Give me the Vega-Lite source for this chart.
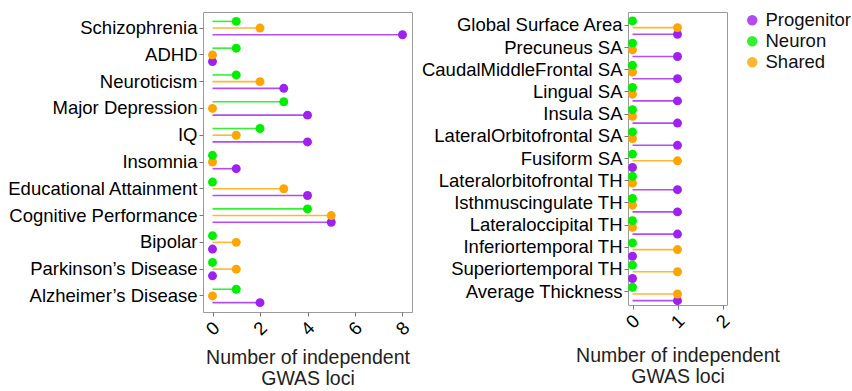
{
  "$schema": "https://vega.github.io/schema/vega-lite/v6.json",
  "padding": {"left": 6, "top": 11, "right": 0, "bottom": 0},
  "config": {
    "font": "Liberation Sans",
    "view": {"stroke": "#9a9a9a", "strokeWidth": 1},
    "axis": {"grid": false, "domain": false, "tickColor": "#777", "tickSize": 4, "labelColor": "#000", "labelFontSize": 18.5, "labelLimit": 0, "titleFontSize": 19.5, "titleFontWeight": "normal", "titleColor": "#222"},
    "legend": {"labelFontSize": 18.5, "labelColor": "#111", "rowPadding": 2, "symbolSize": 80}
  },
  "datasets": {
    "left": [
      {"trait": "Schizophrenia", "type": "Progenitor", "value": 8},
      {"trait": "ADHD", "type": "Progenitor", "value": 0},
      {"trait": "Neuroticism", "type": "Progenitor", "value": 3},
      {"trait": "Major Depression", "type": "Progenitor", "value": 4},
      {"trait": "IQ", "type": "Progenitor", "value": 4},
      {"trait": "Insomnia", "type": "Progenitor", "value": 1},
      {"trait": "Educational Attainment", "type": "Progenitor", "value": 4},
      {"trait": "Cognitive Performance", "type": "Progenitor", "value": 5},
      {"trait": "Bipolar ", "type": "Progenitor", "value": 0},
      {"trait": "Parkinson’s Disease", "type": "Progenitor", "value": 0},
      {"trait": "Alzheimer’s Disease", "type": "Progenitor", "value": 2},
      {"trait": "Schizophrenia", "type": "Shared", "value": 2},
      {"trait": "ADHD", "type": "Shared", "value": 0},
      {"trait": "Neuroticism", "type": "Shared", "value": 2},
      {"trait": "Major Depression", "type": "Shared", "value": 0},
      {"trait": "IQ", "type": "Shared", "value": 1},
      {"trait": "Insomnia", "type": "Shared", "value": 0},
      {"trait": "Educational Attainment", "type": "Shared", "value": 3},
      {"trait": "Cognitive Performance", "type": "Shared", "value": 5},
      {"trait": "Bipolar ", "type": "Shared", "value": 1},
      {"trait": "Parkinson’s Disease", "type": "Shared", "value": 1},
      {"trait": "Alzheimer’s Disease", "type": "Shared", "value": 0},
      {"trait": "Schizophrenia", "type": "Neuron", "value": 1},
      {"trait": "ADHD", "type": "Neuron", "value": 1},
      {"trait": "Neuroticism", "type": "Neuron", "value": 1},
      {"trait": "Major Depression", "type": "Neuron", "value": 3},
      {"trait": "IQ", "type": "Neuron", "value": 2},
      {"trait": "Insomnia", "type": "Neuron", "value": 0},
      {"trait": "Educational Attainment", "type": "Neuron", "value": 0},
      {"trait": "Cognitive Performance", "type": "Neuron", "value": 4},
      {"trait": "Bipolar ", "type": "Neuron", "value": 0},
      {"trait": "Parkinson’s Disease", "type": "Neuron", "value": 0},
      {"trait": "Alzheimer’s Disease", "type": "Neuron", "value": 1}
    ],
    "right": [
      {"trait": "Global Surface Area", "type": "Progenitor", "value": 1},
      {"trait": "Precuneus SA", "type": "Progenitor", "value": 1},
      {"trait": "CaudalMiddleFrontal SA", "type": "Progenitor", "value": 1},
      {"trait": "Lingual SA", "type": "Progenitor", "value": 1},
      {"trait": "Insula SA", "type": "Progenitor", "value": 1},
      {"trait": "LateralOrbitofrontal SA", "type": "Progenitor", "value": 1},
      {"trait": "Fusiform SA", "type": "Progenitor", "value": 0},
      {"trait": "Lateralorbitofrontal TH", "type": "Progenitor", "value": 1},
      {"trait": "Isthmuscingulate TH", "type": "Progenitor", "value": 1},
      {"trait": "Lateraloccipital TH", "type": "Progenitor", "value": 1},
      {"trait": "Inferiortemporal TH", "type": "Progenitor", "value": 0},
      {"trait": "Superiortemporal TH", "type": "Progenitor", "value": 0},
      {"trait": "Average Thickness", "type": "Progenitor", "value": 1},
      {"trait": "Global Surface Area", "type": "Shared", "value": 1},
      {"trait": "Precuneus SA", "type": "Shared", "value": 0},
      {"trait": "CaudalMiddleFrontal SA", "type": "Shared", "value": 0},
      {"trait": "Lingual SA", "type": "Shared", "value": 0},
      {"trait": "Insula SA", "type": "Shared", "value": 0},
      {"trait": "LateralOrbitofrontal SA", "type": "Shared", "value": 0},
      {"trait": "Fusiform SA", "type": "Shared", "value": 1},
      {"trait": "Lateralorbitofrontal TH", "type": "Shared", "value": 0},
      {"trait": "Isthmuscingulate TH", "type": "Shared", "value": 0},
      {"trait": "Lateraloccipital TH", "type": "Shared", "value": 0},
      {"trait": "Inferiortemporal TH", "type": "Shared", "value": 1},
      {"trait": "Superiortemporal TH", "type": "Shared", "value": 1},
      {"trait": "Average Thickness", "type": "Shared", "value": 1},
      {"trait": "Global Surface Area", "type": "Neuron", "value": 0},
      {"trait": "Precuneus SA", "type": "Neuron", "value": 0},
      {"trait": "CaudalMiddleFrontal SA", "type": "Neuron", "value": 0},
      {"trait": "Lingual SA", "type": "Neuron", "value": 0},
      {"trait": "Insula SA", "type": "Neuron", "value": 0},
      {"trait": "LateralOrbitofrontal SA", "type": "Neuron", "value": 0},
      {"trait": "Fusiform SA", "type": "Neuron", "value": 0},
      {"trait": "Lateralorbitofrontal TH", "type": "Neuron", "value": 0},
      {"trait": "Isthmuscingulate TH", "type": "Neuron", "value": 0},
      {"trait": "Lateraloccipital TH", "type": "Neuron", "value": 0},
      {"trait": "Inferiortemporal TH", "type": "Neuron", "value": 0},
      {"trait": "Superiortemporal TH", "type": "Neuron", "value": 0},
      {"trait": "Average Thickness", "type": "Neuron", "value": 0}
    ]
  },
  "hconcat": [
    {
      "width": 209,
      "height": 300,
      "data": {"name": "left"},
      "encoding": {
        "y": {"field": "trait", "type": "nominal", "sort": null, "title": null,
              "scale": {"type": "band", "paddingInner": 0, "paddingOuter": 0.1}},
        "yOffset": {"field": "type", "type": "nominal", "sort": ["Neuron", "Shared", "Progenitor"],
                    "scale": {"type": "point", "padding": 1.5}},
        "x": {"field": "value", "type": "quantitative",
              "scale": {"domain": [-0.4, 8.4], "nice": false, "zero": false},
              "axis": {"values": [0, 2, 4, 6, 8], "labelAngle": -45, "labelAlign": "center", "labelBaseline": "middle", "labelPadding": 12, "titlePadding": 10,
                       "title": ["Number of independent", "GWAS loci"]}},
        "color": {"field": "type", "type": "nominal",
                  "scale": {"domain": ["Progenitor", "Neuron", "Shared"], "range": ["#A020F0", "#00EE00", "#FFA500"]},
                  "legend": {"title": null, "orient": "none", "legendX": 540, "legendY": -1}}
      },
      "layer": [
        {"mark": {"type": "rule", "strokeWidth": 1.6, "opacity": 0.8},
         "encoding": {"x2": {"datum": 0}}},
        {"mark": {"type": "point", "filled": true, "size": 80, "opacity": 1}}
      ]
    },
    {
      "width": 99,
      "height": 293,
      "data": {"name": "right"},
      "encoding": {
        "y": {"field": "trait", "type": "nominal", "sort": null, "title": null,
              "scale": {"type": "band", "paddingInner": 0, "paddingOuter": 0.1}},
        "yOffset": {"field": "type", "type": "nominal", "sort": ["Neuron", "Shared", "Progenitor"],
                    "scale": {"type": "point", "padding": 1.5}},
        "x": {"field": "value", "type": "quantitative",
              "scale": {"domain": [-0.1, 2.1], "nice": false, "zero": false},
              "axis": {"values": [0, 1, 2], "labelAngle": -45, "labelAlign": "center", "labelBaseline": "middle", "labelPadding": 12, "titlePadding": 15,
                       "title": ["Number of independent", "GWAS loci"]}},
        "color": {"field": "type", "type": "nominal",
                  "scale": {"domain": ["Progenitor", "Neuron", "Shared"], "range": ["#A020F0", "#00EE00", "#FFA500"]},
                  "legend": {"title": null, "orient": "none", "legendX": 540, "legendY": -1}}
      },
      "layer": [
        {"mark": {"type": "rule", "strokeWidth": 1.6, "opacity": 0.8},
         "encoding": {"x2": {"datum": 0}}},
        {"mark": {"type": "point", "filled": true, "size": 80, "opacity": 1}}
      ]
    }
  ],
  "spacing": 6,
  "resolve": {"scale": {"color": "shared"}, "legend": {"color": "shared"}}
}
